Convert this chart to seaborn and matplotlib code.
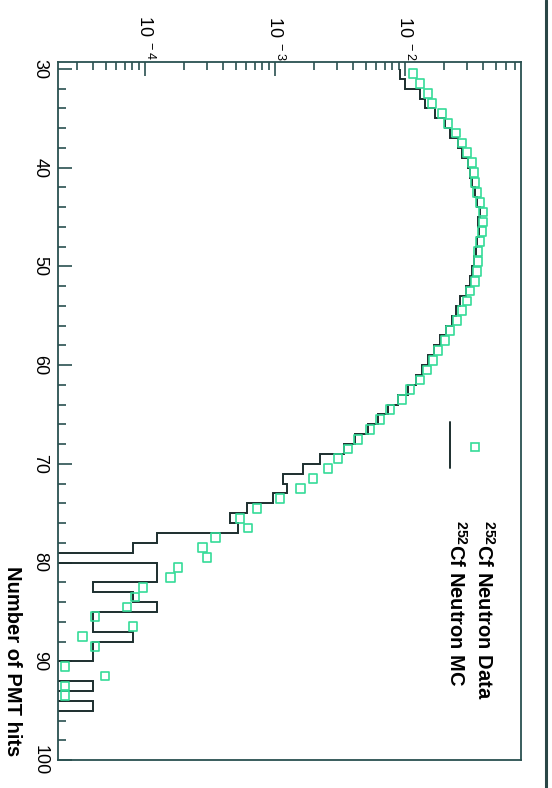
import numpy as np
import pandas as pd
import matplotlib
matplotlib.use("Agg")
import matplotlib.pyplot as plt
from matplotlib.lines import Line2D
from matplotlib.ticker import MultipleLocator, LogLocator, FuncFormatter, NullFormatter
import seaborn as sns

# ---------------- data ----------------
pmt_bins = list(range(30, 96))  # lower edge of each 1-hit bin

cf_data = [
    0.01152, 0.01304, 0.01503, 0.01613, 0.01926, 0.02142, 0.02468, 0.02745, 0.02998, 0.03276,
    0.03394, 0.03455, 0.03579, 0.03775, 0.03981, 0.03981, 0.03911, 0.03775, 0.03643, 0.03643,
    0.03579, 0.03455, 0.03162, 0.02998, 0.02745, 0.02512, 0.02219, 0.02031, 0.01794, 0.01642,
    0.01477, 0.01304, 0.01093, 0.00948, 0.00766, 0.00642, 0.00538, 0.00435, 0.00364, 0.00305,
    0.00256, 0.00196, 0.00156, 0.00109, 0.000727, 0.000538, 0.000620, 0.000346, 0.000275, 0.000300,
    0.000179, 0.000156, 0.0000965, 0.0000838, 0.0000727, 0.0000412, 0.0000809, 0.0000328, 0.0000412, np.nan,
    0.0000242, 0.0000492, 0.0000242, 0.0000242, np.nan, np.nan,
]

cf_mc = [
    0.00915, 0.01000, 0.01304, 0.01425, 0.01701, 0.02031, 0.02219, 0.02557, 0.02745, 0.03051,
    0.03162, 0.03276, 0.03455, 0.03579, 0.03775, 0.03643, 0.03709, 0.03579, 0.03517, 0.03394,
    0.03276, 0.03162, 0.02945, 0.02649, 0.02468, 0.02299, 0.02067, 0.01859, 0.01671, 0.01503,
    0.01351, 0.01215, 0.01055, 0.00884, 0.00740, 0.00620, 0.00519, 0.00412, 0.00340, 0.00222,
    0.00164, 0.00115, 0.00124, 0.000965, 0.000609, 0.000451, 0.000519, 0.000124, 0.0000809, 0.0,
    0.000124, 0.000124, 0.0000400, 0.0000809, 0.000124, 0.0000400, 0.0000400, 0.0000809, 0.0000400, 0.0000400,
    0.0, 0.0, 0.0000400, 0.0, 0.0000400, 0.0,
]

legend_labels = [r"$^{\mathbf{252}}$Cf Neutron Data", r"$^{\mathbf{252}}$Cf Neutron MC"]
axis_title = "Number of PMT hits"

# ---------------- style ----------------
sns.set_theme(style="white")
plt.rcParams["font.family"] = ["Liberation Sans", "DejaVu Sans"]
plt.rcParams["mathtext.fontset"] = "custom"
plt.rcParams["mathtext.rm"] = "Liberation Sans"
plt.rcParams["mathtext.bf"] = "Liberation Sans:bold"

GREEN = "#35dc98"
DARK = "#1c2e2e"
FRAME = "#2a5050"

fig = plt.figure(figsize=(5.52, 7.88), dpi=100)
ax = fig.add_axes([58 / 552, 1 - 760 / 788, (521 - 58) / 552, (760 - 62) / 788])

edges = np.arange(pmt_bins[0], pmt_bins[-1] + 2)
centers = np.array(pmt_bins) + 0.5
df = pd.DataFrame({"hits": centers, "data": cf_data, "mc": cf_mc})

# MC histogram (zero bins drawn below the axis floor)
mc_plot = np.where(df["mc"].values > 0, df["mc"].values, 1e-7)
ax.stairs(mc_plot, edges, orientation="horizontal", baseline=None,
          color=DARK, lw=1.4)

# data squares
sns.scatterplot(data=df.dropna(), x="data", y="hits", marker="s", s=40,
                facecolor="none", edgecolor=GREEN, linewidth=1.2, ax=ax,
                legend=False, zorder=3)

ax.set_xscale("log")
ax.set_xlim(2.14e-5, 0.078)
ax.set_ylim(100, 29.3)

ax.set_xlabel("")
ax.set_ylabel("")

# ticks
ax.xaxis.set_major_locator(LogLocator(base=10))
ax.xaxis.set_minor_locator(LogLocator(base=10, subs=np.arange(2, 10)))
ax.xaxis.set_minor_formatter(NullFormatter())


def dec_fmt(v, pos):
    e = int(round(np.log10(v)))
    return r"10$^{\ %d}$" % e


ax.xaxis.set_major_formatter(FuncFormatter(dec_fmt))
ax.yaxis.set_major_locator(MultipleLocator(10))
ax.yaxis.set_minor_locator(MultipleLocator(2))

ax.tick_params(axis="x", which="both", top=True, bottom=False, labeltop=True,
               labelbottom=False, direction="in", color=FRAME, labelcolor="black",
               labelsize=13, labelrotation=-90, pad=1)
ax.tick_params(axis="y", which="both", left=True, right=False, direction="in",
               color=FRAME, labelcolor="black", labelsize=13, labelrotation=-90, pad=7)
ax.tick_params(which="major", length=10, width=1.2)
ax.tick_params(which="minor", length=6, width=1.2)
for lab in ax.get_yticklabels():
    lab.set_va("center")

for sp in ax.spines.values():
    sp.set_color(FRAME)
    sp.set_linewidth(1.3)

# axis title (rotated, end-justified like the original)
fig.text(12 / 552, 1 - 756 / 788, axis_title, rotation=-90, ha="center", va="bottom",
         fontsize=14.5, fontweight="bold", color="black")

# legend drawn in the same rotated frame
fig.add_artist(Line2D([475 / 552], [1 - 447 / 788], marker="s", markersize=6.3,
                      markerfacecolor="none", markeredgecolor=GREEN, markeredgewidth=1.2,
                      linestyle="none"))
fig.add_artist(Line2D([450 / 552, 450 / 552], [1 - 422 / 788, 1 - 468 / 788],
                      color=DARK, lw=1.4))
fig.text(484 / 552, 1 - 520 / 788, legend_labels[0], rotation=-90, ha="center", va="top",
         fontsize=14.5, fontweight="bold", color="black")
fig.text(456 / 552, 1 - 520 / 788, legend_labels[1], rotation=-90, ha="center", va="top",
         fontsize=14.5, fontweight="bold", color="black")

# page border on the right
fig.add_artist(Line2D([546 / 552, 546 / 552], [0, 1], color="#2a4646", lw=2.2))

fig.savefig("out.png", dpi=100, facecolor="white")
